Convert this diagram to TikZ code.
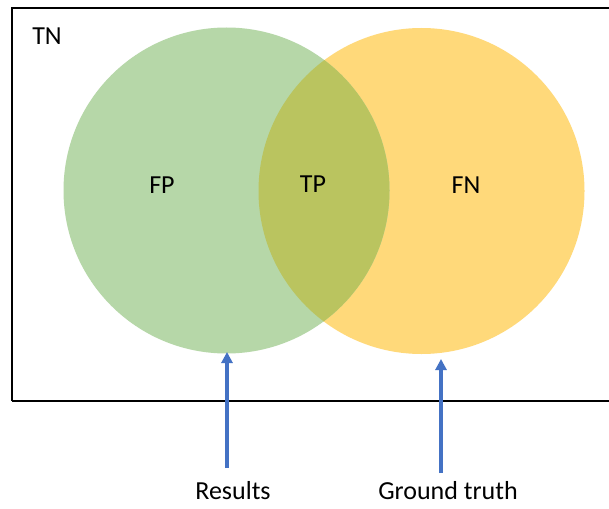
\documentclass[tikz,border=0pt]{standalone}
\usepackage{fontspec}
\setmainfont{Carlito}
\usetikzlibrary{arrows.meta}
\definecolor{resgreen}{HTML}{B6D7A8}
\definecolor{gtyellow}{HTML}{FFD97A}
\definecolor{overlap}{HTML}{BAC45F}
\definecolor{arrowblue}{HTML}{4472C4}
\tikzset{
  lbl/.style={font=\fontsize{26}{31}\selectfont, inner sep=0pt},
  ptr/.style={draw=arrowblue, line width=3.2pt, -{Triangle[length=11pt,width=11pt]}},
}
\begin{document}
\begin{tikzpicture}[x=1pt,y=-1pt]
\useasboundingbox (0,0) rectangle (609,508);
\clip (0,0) rectangle (609,508);
\fill[white] (0,0) rectangle (609,508);
% circles
\node[circle, minimum size=326pt, inner sep=0pt, fill=gtyellow] (gt) at (421.5,191) {};
\node[circle, minimum size=326pt, inner sep=0pt, fill=resgreen] (res) at (226.5,190.5) {};
\begin{scope}
  \clip (226.5,190.5) circle (163);
  \fill[overlap] (421.5,191) circle (163);
\end{scope}
% frame
\draw[line width=2.2pt] (12,401) -- (12,8) -- (640,8);
\draw[line width=2.2pt] (12,401) -- (640,401);
% labels
\node[lbl] (tn) at (47,36) {TN};
\node[lbl] (fp) at (162,185) {FP};
\node[lbl] (tp) at (313,184) {TP};
\node[lbl] (fn) at (466,185) {FN};
\node[lbl] (results) at (233,491) {Results};
\node[lbl] (truth) at (448,491) {Ground truth};
% arrows
\coordinate (rtail) at (227,468);
\coordinate (rtip) at (227,352);
\coordinate (gtail) at (441,473);
\coordinate (gtip) at (441,359);
\draw[ptr] (rtail) -- (rtip);
\draw[ptr] (gtail) -- (gtip);
\end{tikzpicture}
\end{document}
